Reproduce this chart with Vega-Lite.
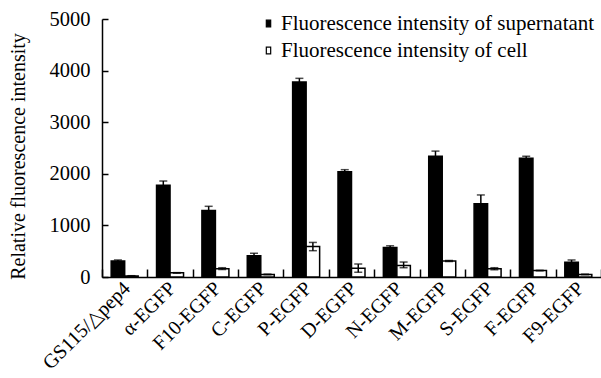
{
  "$schema": "https://vega.github.io/schema/vega-lite/v6.json",
  "autosize": {"type": "none"},
  "width": 499,
  "height": 258,
  "padding": {"left": 102, "top": 19, "right": 0, "bottom": 101},
  "background": "white",
  "config": {
    "font": "Liberation Serif",
    "view": {"stroke": null},
    "axis": {"domainColor": "#000", "domainWidth": 1.5, "tickColor": "#000", "tickWidth": 1.5, "labelColor": "#000", "titleColor": "#000", "labelFont": "Liberation Serif", "titleFont": "Liberation Serif", "labelFontSize": 20, "titleFontSize": 20, "grid": false}
  },
  "data": {
    "values": [
      {"strain": "GS115/△pep4", "series": "Fluorescence intensity of supernatant", "value": 310, "lo": 290, "hi": 330},
      {"strain": "GS115/△pep4", "series": "Fluorescence intensity of cell", "value": 20, "lo": 15, "hi": 25},
      {"strain": "α-EGFP", "series": "Fluorescence intensity of supernatant", "value": 1780, "lo": 1700, "hi": 1860},
      {"strain": "α-EGFP", "series": "Fluorescence intensity of cell", "value": 80, "lo": 75, "hi": 85},
      {"strain": "F10-EGFP", "series": "Fluorescence intensity of supernatant", "value": 1290, "lo": 1210, "hi": 1370},
      {"strain": "F10-EGFP", "series": "Fluorescence intensity of cell", "value": 160, "lo": 145, "hi": 180},
      {"strain": "C-EGFP", "series": "Fluorescence intensity of supernatant", "value": 410, "lo": 360, "hi": 460},
      {"strain": "C-EGFP", "series": "Fluorescence intensity of cell", "value": 50, "lo": 45, "hi": 55},
      {"strain": "P-EGFP", "series": "Fluorescence intensity of supernatant", "value": 3780, "lo": 3710, "hi": 3850},
      {"strain": "P-EGFP", "series": "Fluorescence intensity of cell", "value": 590, "lo": 510, "hi": 670},
      {"strain": "D-EGFP", "series": "Fluorescence intensity of supernatant", "value": 2040, "lo": 2000, "hi": 2080},
      {"strain": "D-EGFP", "series": "Fluorescence intensity of cell", "value": 170, "lo": 90, "hi": 250},
      {"strain": "N-EGFP", "series": "Fluorescence intensity of supernatant", "value": 570, "lo": 530, "hi": 605},
      {"strain": "N-EGFP", "series": "Fluorescence intensity of cell", "value": 225, "lo": 180, "hi": 290},
      {"strain": "M-EGFP", "series": "Fluorescence intensity of supernatant", "value": 2340, "lo": 2240, "hi": 2440},
      {"strain": "M-EGFP", "series": "Fluorescence intensity of cell", "value": 310, "lo": 300, "hi": 320},
      {"strain": "S-EGFP", "series": "Fluorescence intensity of supernatant", "value": 1420, "lo": 1250, "hi": 1590},
      {"strain": "S-EGFP", "series": "Fluorescence intensity of cell", "value": 160, "lo": 140, "hi": 180},
      {"strain": "F-EGFP", "series": "Fluorescence intensity of supernatant", "value": 2300, "lo": 2260, "hi": 2340},
      {"strain": "F-EGFP", "series": "Fluorescence intensity of cell", "value": 125, "lo": 120, "hi": 130},
      {"strain": "F9-EGFP", "series": "Fluorescence intensity of supernatant", "value": 285, "lo": 240, "hi": 330},
      {"strain": "F9-EGFP", "series": "Fluorescence intensity of cell", "value": 50, "lo": 45, "hi": 55}
    ]
  },
  "encoding": {
    "x": {
      "field": "strain", "type": "nominal", "sort": null,
      "scale": {"paddingInner": 0, "paddingOuter": 0},
      "axis": {"title": null, "labelAngle": -45, "labelAlign": "right", "labelBaseline": "middle", "labelFontSize": 20, "tickBand": "extent", "tickSize": -8, "labelPadding": 16, "labelOffset": 2, "labelLimit": 0}
    },
    "xOffset": {"field": "series", "type": "nominal", "sort": ["Fluorescence intensity of supernatant", "Fluorescence intensity of cell"], "scale": {"paddingInner": 0, "paddingOuter": 0.68}}
  },
  "layer": [
    {
      "mark": {"type": "bar", "stroke": "#000", "strokeWidth": 1.5},
      "encoding": {
        "y": {
          "field": "value", "type": "quantitative",
          "scale": {"domain": [0, 5000], "nice": false},
          "axis": {"title": "Relative fluorescence intensity", "titleFontSize": 20, "titleFontWeight": "normal", "titleAngle": -90, "titleX": -84, "titleY": 137, "titleAlign": "center", "titleBaseline": "middle", "labelFontSize": 20.5, "format": "d", "values": [0, 1000, 2000, 3000, 4000, 5000], "tickSize": -6, "labelPadding": 18}
        },
        "fill": {
          "field": "series", "type": "nominal",
          "sort": ["Fluorescence intensity of supernatant", "Fluorescence intensity of cell"],
          "scale": {"domain": ["Fluorescence intensity of supernatant", "Fluorescence intensity of cell"], "range": ["#000000", "#ffffff"]},
          "legend": {"title": null, "orient": "none", "legendX": 156, "legendY": -6, "symbolType": "M-0.65,-1L0.65,-1L0.65,1L-0.65,1Z", "symbolSize": 45, "symbolStrokeColor": "#000", "symbolStrokeWidth": 1.2, "labelFontSize": 21, "labelColor": "#000", "labelFont": "Liberation Serif", "labelLimit": 0, "rowPadding": 5, "labelOffset": 2}
        }
      }
    },
    {
      "mark": {"type": "rule", "color": "#000", "strokeWidth": 1.5},
      "encoding": {"y": {"field": "lo", "type": "quantitative"}, "y2": {"field": "hi"}}
    },
    {
      "mark": {"type": "tick", "color": "#000", "thickness": 1.5, "size": 8, "orient": "horizontal"},
      "encoding": {"y": {"field": "hi", "type": "quantitative"}}
    },
    {
      "mark": {"type": "tick", "color": "#000", "thickness": 1.5, "size": 8, "orient": "horizontal"},
      "encoding": {"y": {"field": "lo", "type": "quantitative"}}
    }
  ]
}
